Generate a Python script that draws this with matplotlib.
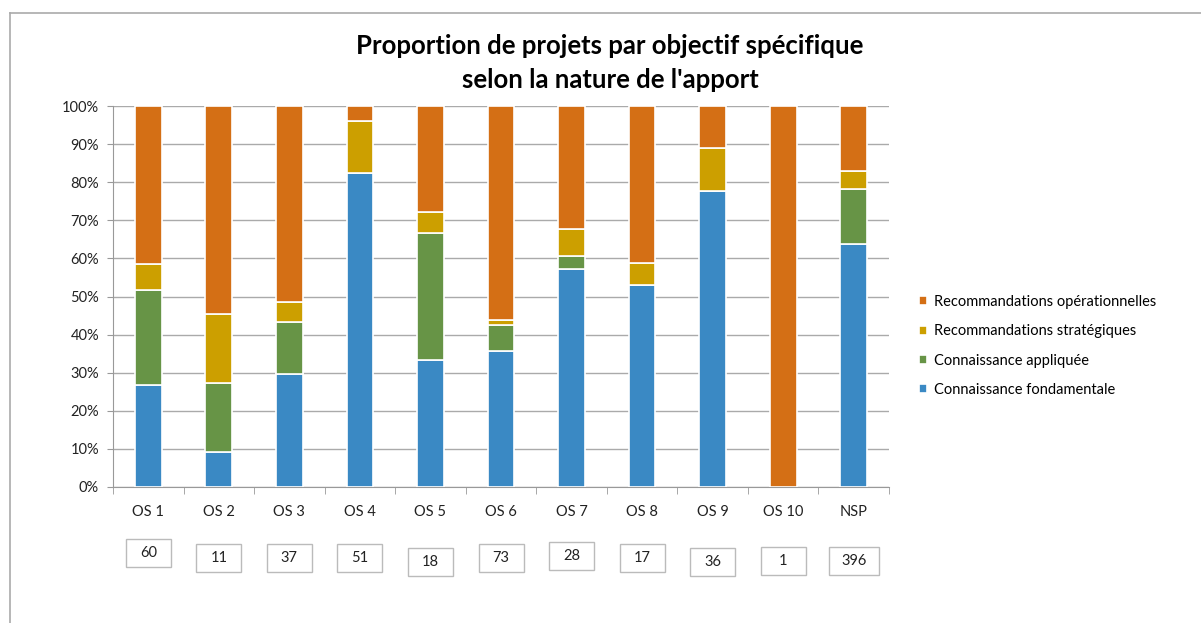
import numpy as np
import matplotlib.pyplot as plt
from matplotlib.patches import Rectangle
from matplotlib.lines import Line2D

plt.rcParams['font.family'] = ['Lato', 'DejaVu Sans']

# data (percent of projects per specific objective)
categories = ['OS 1', 'OS 2', 'OS 3', 'OS 4', 'OS 5', 'OS 6', 'OS 7', 'OS 8', 'OS 9', 'OS 10', 'NSP']
fondamentale = [26.7, 9.1, 29.7, 82.4, 33.3, 35.6, 57.1, 52.9, 77.8, 0.0, 63.9]
appliquee = [25.0, 18.2, 13.5, 0.0, 33.3, 6.8, 3.6, 0.0, 0.0, 0.0, 14.3]
strategiques = [6.7, 18.2, 5.4, 13.7, 5.6, 1.4, 7.1, 5.9, 11.1, 0.0, 4.8]
operationnelles = [41.7, 54.5, 51.4, 3.9, 27.8, 56.2, 32.1, 41.2, 11.1, 100.0, 17.0]
effectifs = [60, 11, 37, 51, 18, 73, 28, 17, 36, 1, 396]

series = [
    ('Connaissance fondamentale', fondamentale, '#3A89C4'),
    ('Connaissance appliquée', appliquee, '#679446'),
    ('Recommandations stratégiques', strategiques, '#CC9F00'),
    ('Recommandations opérationnelles', operationnelles, '#D46F15'),
]

# layout: hand-placed count boxes in the original sit at slightly different heights
box_y = [553, 558, 558, 558, 562, 558, 556, 558, 562, 561, 561]

W, H = 1201, 623
fig = plt.figure(figsize=(W / 100, H / 100), dpi=100)
ax = fig.add_axes([113 / W, 1 - 487 / H, 776 / W, 381 / H])

x = np.arange(len(categories))
bottom = np.zeros(len(categories))
handles = []
for name, vals, color in series:
    vals = np.array(vals)
    b = ax.bar(x, vals, bottom=bottom, width=0.38, color=color,
               edgecolor='white', linewidth=1.2, label=name, zorder=3)
    handles.append(b)
    bottom += vals

ax.set_xlim(-0.5, len(categories) - 0.5)
ax.set_ylim(0, 100)
ax.set_yticks(np.arange(0, 101, 10))
ax.set_yticklabels([f'{v}%' for v in range(0, 101, 10)], fontsize=10.5, color='#222222')
ax.set_xticks(x)
ax.set_xticklabels(categories, fontsize=10.5, color='#222222')
ax.set_xticks(np.arange(-0.5, len(categories), 1), minor=True)
ax.tick_params(axis='x', which='major', length=0, pad=13)
ax.tick_params(axis='x', which='minor', length=5, color='#999999', direction='out')
ax.tick_params(axis='y', length=4, color='#999999', pad=6)
ax.yaxis.grid(True, color='#AAAAAA', linewidth=1, zorder=0)
ax.set_axisbelow(True)
for side in ['top', 'right']:
    ax.spines[side].set_visible(False)
for side in ['left', 'bottom']:
    ax.spines[side].set_color('#999999')

# legend (reversed order like the original)
leg = fig.legend(handles[::-1], [s[0] for s in series][::-1],
                 loc='center left', bbox_to_anchor=(906 / W, 1 - 346 / H),
                 frameon=False, fontsize=10.5, handlelength=0.55, handleheight=0.55,
                 labelspacing=1.05, handletextpad=0.45)

# title
fig.text(610 / W, 1 - 46 / H, 'Proportion de projets par objectif spécifique',
         ha='center', va='center', fontsize=18.5, fontweight='bold')
fig.text(610 / W, 1 - 80 / H, "selon la nature de l'apport",
         ha='center', va='center', fontsize=18.5, fontweight='bold')

# count boxes under the axis
for xi, n, yb in zip(x, effectifs, box_y):
    xc = ax.transData.transform((xi, 0))[0]
    wb = 50 if n >= 100 else 45
    fig.add_artist(Rectangle(((xc - wb / 2) / W, 1 - (yb + 14) / H), wb / W, 28 / H,
                             transform=fig.transFigure, facecolor='white',
                             edgecolor='#BBBBBB', linewidth=1))
    fig.text(xc / W, 1 - yb / H, str(n), ha='center', va='center', fontsize=10.5,
             color='#222222')

# outer chart frame
fig.add_artist(Line2D([10 / W, 10 / W], [0, 1 - 13 / H], color='#AAAAAA', lw=1.2,
                      transform=fig.transFigure))
fig.add_artist(Line2D([10 / W, 1], [1 - 13 / H, 1 - 13 / H], color='#AAAAAA', lw=1.2,
                      transform=fig.transFigure))

fig.savefig('out.png', dpi=100)
